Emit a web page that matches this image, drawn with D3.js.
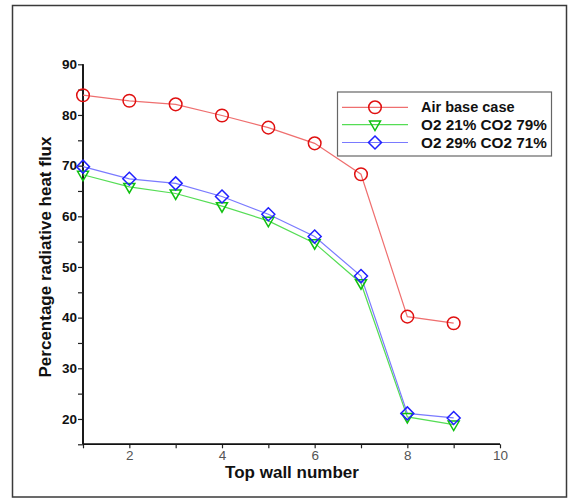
<!DOCTYPE html>
<html>
<head>
<meta charset="utf-8">
<script src="https://cdn.jsdelivr.net/npm/d3@7"></script>
<style>
  html, body { margin: 0; padding: 0; background: #fff; }
  svg { display: block; font-family: "Liberation Sans", Arial, sans-serif; }
</style>
</head>
<body>
<script>
// Top wall number for each measurement
const walls = [1, 2, 3, 4, 5, 6, 7, 8, 9];

// Percentage radiative heat flux per case
const airBase = [83.9, 82.8, 82.1, 79.9, 77.5, 74.4, 68.3, 40.2, 38.9];
const o2_21 = [68.2, 65.8, 64.5, 62.0, 59.1, 54.7, 46.8, 20.4, 18.9];
const o2_29 = [69.8, 67.4, 66.5, 63.9, 60.4, 56.0, 48.2, 21.1, 20.2];

const seriesNames = ["Air base case", "O2 21% CO2 79%", "O2 29% CO2 71%"];

// Axis ticks
const xMajor = [2, 4, 6, 8, 10];
const xMinor = [1, 3, 5, 7, 9];
const yMajor = [20, 30, 40, 50, 60, 70, 80, 90];
const yMinor = [15, 25, 35, 45, 55, 65, 75, 85];

const W = 569, H = 499;
const svg = d3.select("body").append("svg").attr("width", W).attr("height", H);

// outer frame
svg.append("rect")
  .attr("x", 12.5).attr("y", 5.5).attr("width", 554).attr("height", 491.5)
  .attr("fill", "none").attr("stroke", "#3a3a3a").attr("stroke-width", 1.5);

const x = d3.scaleLinear().domain([1, 10]).range([83, 500]);
const y = d3.scaleLinear().domain([15, 90]).range([444.3, 64.3]);

// X axis
const gx = svg.append("g").attr("transform", "translate(0,444.3)");
gx.call(d3.axisBottom(x).tickValues(xMajor).tickSize(4).tickPadding(2).tickFormat(d3.format("d")));
gx.append("g").call(d3.axisBottom(x).tickValues(xMinor).tickSize(4).tickFormat(""));
gx.selectAll(".domain").attr("stroke", "#111").attr("stroke-width", 1.6).attr("d", `M${x(1)},0H${x(10)}`);
gx.selectAll(".tick line").attr("stroke", "#222").attr("stroke-width", 1.2);
gx.selectAll(".tick text").attr("fill", "#555").attr("font-size", 13.5)
  .attr("font-family", "Liberation Sans, Arial, sans-serif");

// Y axis
const gy = svg.append("g").attr("transform", `translate(${x(1)},0)`);
gy.call(d3.axisLeft(y).tickValues(yMajor).tickSize(5).tickPadding(1).tickFormat(d3.format("d")));
gy.append("g").call(d3.axisLeft(y).tickValues(yMinor).tickSize(5).tickFormat(""));
gy.selectAll(".domain").attr("stroke", "#111").attr("stroke-width", 1.6).attr("d", `M0,${y(15)}V${y(90)}`);
gy.selectAll(".tick line").attr("stroke", "#222").attr("stroke-width", 1.2);
gy.selectAll(".tick text").attr("fill", "#111").attr("font-size", 13.5).attr("font-weight", "bold")
  .attr("font-family", "Liberation Sans, Arial, sans-serif");

// Axis titles
svg.append("text")
  .attr("x", 292).attr("y", 478)
  .attr("text-anchor", "middle").attr("font-size", 17).attr("font-weight", "bold").attr("fill", "#111")
  .text("Top wall number");
svg.append("text")
  .attr("transform", "translate(51,257) rotate(-90)")
  .attr("text-anchor", "middle").attr("font-size", 17).attr("font-weight", "bold").attr("fill", "#111")
  .text("Percentage radiative heat flux");

const series = [
  { name: seriesNames[0], values: airBase, line: "#ef6f6f", mark: "#e01010", shape: "circle", fs: 14.5 },
  { name: seriesNames[1], values: o2_21, line: "#55dd55", mark: "#10c010", shape: "triangle", fs: 15.3 },
  { name: seriesNames[2], values: o2_29, line: "#7a7aff", mark: "#2020ff", shape: "diamond", fs: 15.3 }
];

function drawMarker(g, shape, color) {
  if (shape === "circle") {
    g.append("circle").attr("r", 6.3).attr("fill", "none").attr("stroke", color).attr("stroke-width", 1.5);
  } else if (shape === "triangle") {
    g.append("path").attr("d", "M-5.5,-3.5L5.5,-3.5L0,6Z")
      .attr("fill", "none").attr("stroke", color).attr("stroke-width", 1.5);
  } else {
    g.append("path").attr("d", "M0,-6.5L6.5,0L0,6.5L-6.5,0Z")
      .attr("fill", "none").attr("stroke", color).attr("stroke-width", 1.5);
  }
}

const line = d3.line().x(d => x(d[0])).y(d => y(d[1]));

series.forEach(s => {
  const pts = walls.map((w, i) => [w, s.values[i]]);
  svg.append("path").datum(pts).attr("d", line)
    .attr("fill", "none").attr("stroke", s.line).attr("stroke-width", 1.2);
});
series.forEach(s => {
  walls.forEach((w, i) => {
    const g = svg.append("g").attr("transform", `translate(${x(w)},${y(s.values[i])})`);
    drawMarker(g, s.shape, s.mark);
  });
});

// Legend
const lg = svg.append("g");
lg.append("rect").attr("x", 337.5).attr("y", 92).attr("width", 214).attr("height", 64)
  .attr("fill", "#fff").attr("stroke", "#666").attr("stroke-width", 1.2);
const rowY = [107.3, 124.6, 142.5];
series.forEach((s, i) => {
  lg.append("line").attr("x1", 342).attr("x2", 408).attr("y1", rowY[i]).attr("y2", rowY[i])
    .attr("stroke", s.line).attr("stroke-width", 1.2);
  const g = lg.append("g").attr("transform", `translate(375,${rowY[i]})`);
  drawMarker(g, s.shape, s.mark);
  lg.append("text").attr("x", 421).attr("y", rowY[i] + 5)
    .attr("font-size", s.fs).attr("font-weight", "bold").attr("fill", "#111")
    .text(s.name);
});
</script>
</body>
</html>
